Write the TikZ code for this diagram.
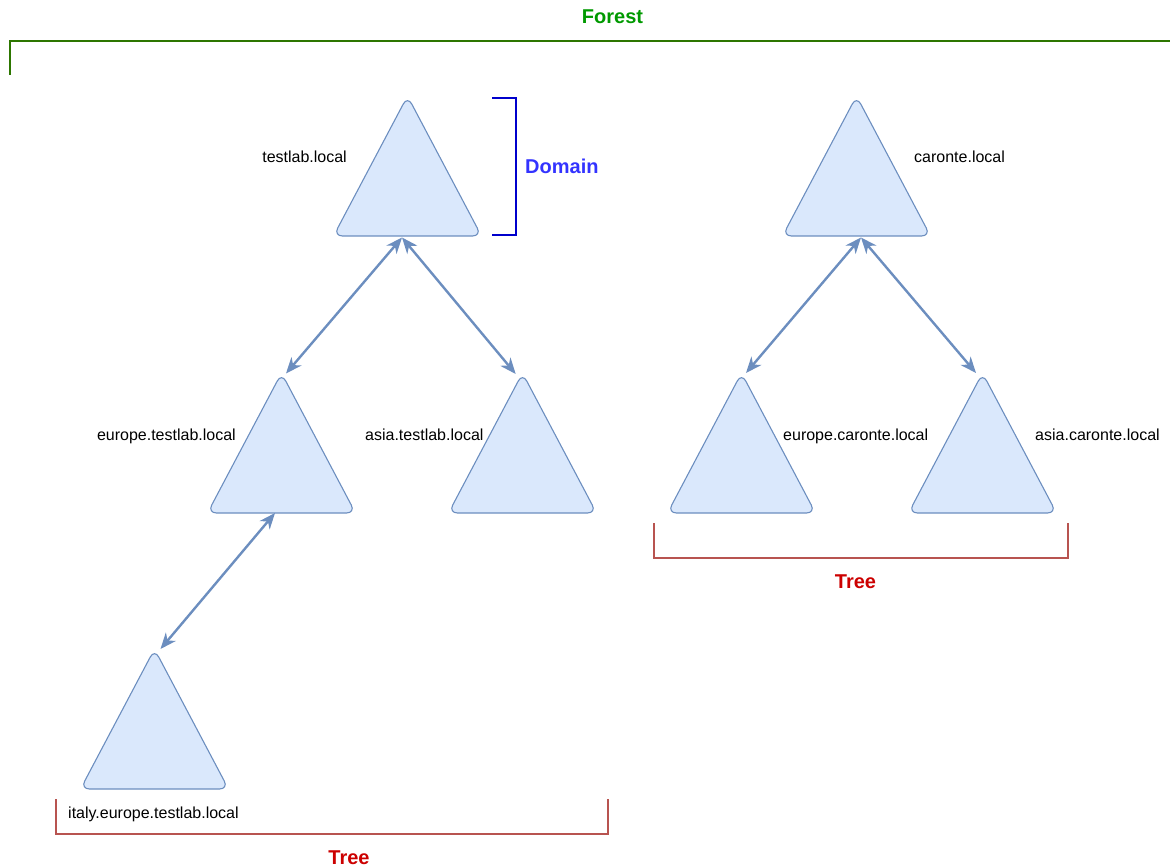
\documentclass[tikz,border=0pt]{standalone}
\usepackage{fontspec}
\setmainfont{Liberation Sans}
\usetikzlibrary{arrows.meta}

\definecolor{triFill}{HTML}{DAE8FC}
\definecolor{triLine}{HTML}{6C8EBF}
\definecolor{forestLine}{HTML}{2D7600}
\definecolor{forestText}{HTML}{009900}
\definecolor{domainLine}{HTML}{0000CC}
\definecolor{domainText}{HTML}{3333FF}
\definecolor{treeLine}{HTML}{B85450}
\definecolor{treeText}{HTML}{CC0000}

\tikzset{
  trusttip/.tip={Stealth[length=16pt,width=13pt,inset=5pt]}
}

\begin{document}
\begin{tikzpicture}[x=1pt,y=-1pt,
  domainbox/.style={minimum width=148pt, minimum height=140pt, inner sep=0pt, outer sep=0pt},
  triangle/.style={draw=triLine, fill=triFill, line width=1.1pt, rounded corners=9pt, line join=round},
  domname/.style={inner sep=0pt, font=\fontsize{16}{19}\selectfont},
  biglabel/.style={inner sep=0pt, font=\fontsize{20}{24}\selectfont\bfseries},
  trust/.style={draw=triLine, line width=2.4pt, trusttip-trusttip},
  bracket/.style={line width=2pt, line cap=rect}
]
  % canvas
  \useasboundingbox (0,0) rectangle (1170,866);

  % domains (bounding boxes of the triangles)
  \node[domainbox] (tA) at (407.5,166) {};
  \node[domainbox] (tB) at (281.5,443) {};
  \node[domainbox] (tC) at (522.5,443) {};
  \node[domainbox] (tD) at (154.5,719) {};
  \node[domainbox] (tE) at (856.5,166) {};
  \node[domainbox] (tF) at (741.5,443) {};
  \node[domainbox] (tG) at (982.5,443) {};
  \foreach \n in {tA,tB,tC,tD,tE,tF,tG}
    \draw[triangle] (\n.south west) -- (\n.north) -- (\n.south east) -- cycle;

  % domain names
  \node[domname, anchor=base east] (lA) at (347,163) {testlab.local};
  \node[domname, anchor=base east] (lB) at (236,440) {europe.testlab.local};
  \node[domname, anchor=base west] (lC) at (365,440) {asia.testlab.local};
  \node[domname, anchor=base west] (lD) at (68,818) {italy.europe.testlab.local};
  \node[domname, anchor=base west] (lE) at (914,163) {caronte.local};
  \node[domname, anchor=base west] (lF) at (783,440) {europe.caronte.local};
  \node[domname, anchor=base west] (lG) at (1035,440) {asia.caronte.local};

  % two-way trusts
  \draw[trust] ([shift={(-5.5,1.5)}]tA.south) -- ([shift={(4.5,0.5)}]tB.north);
  \draw[trust] ([shift={(-5.5,1.5)}]tA.south) -- ([shift={(-6.8,1)}]tC.north);
  \draw[trust] ([shift={(-6.5,0)}]tB.south) -- ([shift={(6,0)}]tD.north);
  \draw[trust] ([shift={(4.5,1.5)}]tE.south) -- ([shift={(4.5,0)}]tF.north);
  \draw[trust] ([shift={(4.5,1.5)}]tE.south) -- ([shift={(-6.5,0)}]tG.north);

  % forest bracket
  \draw[bracket, draw=forestLine] (10,74) -- (10,41) -- (1172,41);
  \node[biglabel, text=forestText, anchor=base] (forest) at (612.5,24) {Forest};

  % domain bracket
  \draw[bracket, draw=domainLine] (493,98) -- (516,98) -- (516,235) -- (493,235);
  \node[biglabel, text=domainText, anchor=base west] (domain) at (525,174) {Domain};

  % tree brackets
  \draw[bracket, draw=treeLine] (56,800) -- (56,834) -- (608,834) -- (608,800);
  \node[biglabel, text=treeText, anchor=base] (tree1) at (349,864) {Tree};
  \draw[bracket, draw=treeLine] (654,524) -- (654,558) -- (1068,558) -- (1068,524);
  \node[biglabel, text=treeText, anchor=base] (tree2) at (855.5,588) {Tree};
\end{tikzpicture}
\end{document}
